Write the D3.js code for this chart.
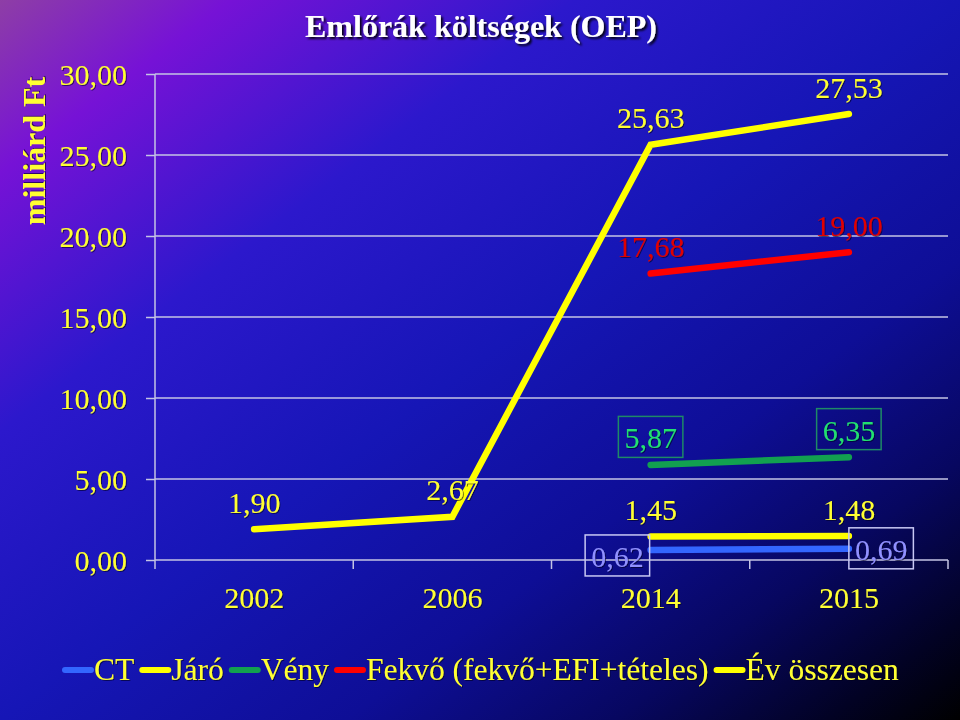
<!DOCTYPE html>
<html>
<head>
<meta charset="utf-8">
<script src="https://cdn.jsdelivr.net/npm/d3@7"></script>
<style>
  html, body { margin: 0; padding: 0; background: #000; }
  svg { display: block; }
  text { font-family: "Liberation Serif", "Times New Roman", serif; }
</style>
</head>
<body>
<svg id="chart" width="960" height="720"></svg>
<script>
// ---------- data ----------
const years = ["2002", "2006", "2014", "2015"];
const yTicks = [0, 5, 10, 15, 20, 25, 30];
const ctValues     = [null, null, 0.62, 0.69];
const jaroValues   = [null, null, 1.45, 1.48];
const venyValues   = [null, null, 5.87, 6.35];
const fekvoValues  = [null, null, 17.68, 19.00];
const totalValues  = [1.90, 2.67, 25.63, 27.53];
const seriesNames  = ["CT", "Járó", "Vény", "Fekvő (fekvő+EFI+tételes)", "Év összesen"];
const titleText = "Emlőrák költségek (OEP)";
const yTitleText = "milliárd Ft";

// ---------- setup ----------
const W = 960, H = 720;
const svg = d3.select("#chart");
const defs = svg.append("defs");

const bg = defs.append("linearGradient").attr("id", "bg")
  .attr("x1", 0).attr("y1", 0).attr("x2", 1).attr("y2", 1);
[[0, "#8e3ea6"], [0.12, "#7612d6"], [0.3, "#2c18cc"], [0.5, "#1616b6"],
 [0.68, "#0e0e96"], [0.82, "#070760"], [0.93, "#020224"], [1, "#000000"]]
  .forEach(([o, c]) => bg.append("stop").attr("offset", o).attr("stop-color", c));

const shadow = defs.append("filter").attr("id", "shadow")
  .attr("x", "-10%").attr("y", "-20%").attr("width", "130%").attr("height", "160%");
shadow.append("feDropShadow").attr("dx", 2).attr("dy", 2).attr("stdDeviation", 0.8)
  .attr("flood-color", "#000000").attr("flood-opacity", 0.9);
const softShadow = defs.append("filter").attr("id", "soft")
  .attr("x", "-10%").attr("y", "-20%").attr("width", "130%").attr("height", "160%");
softShadow.append("feDropShadow").attr("dx", 1).attr("dy", 1).attr("stdDeviation", 0.6)
  .attr("flood-color", "#000020").attr("flood-opacity", 0.6);

svg.append("rect").attr("width", W).attr("height", H).attr("fill", "url(#bg)");

const plot = { left: 155, right: 948, top: 74, bottom: 560 };
const x = d3.scaleBand().domain(years).range([plot.left, plot.right]).padding(0);
const y = d3.scaleLinear().domain([0, 30]).range([plot.bottom, plot.top]);
const cx = yr => x(yr) + x.bandwidth() / 2;

const huFormat = d3.formatLocale({ decimal: ",", thousands: " ", grouping: [3], currency: ["", " Ft"] }).format(".2f");

const gridColor = "#c4c4e4";

// gridlines
svg.append("g").selectAll("line").data(yTicks).join("line")
  .attr("x1", plot.left).attr("x2", plot.right)
  .attr("y1", d => y(d)).attr("y2", d => y(d))
  .attr("stroke", gridColor).attr("stroke-width", 1.5);

// y axis
const yAxis = svg.append("g").attr("transform", `translate(${plot.left},0)`)
  .call(d3.axisLeft(y).tickValues(yTicks).tickFormat(huFormat).tickSize(9).tickPadding(19));
yAxis.select(".domain").remove();
yAxis.selectAll(".tick line").attr("stroke", gridColor).attr("stroke-width", 1.5);
yAxis.selectAll(".tick text").attr("fill", "#ffff33").attr("font-size", 30)
  .attr("font-family", "Liberation Serif").attr("dy", "0.34em").attr("filter", "url(#soft)");
svg.append("line").attr("x1", plot.left).attr("x2", plot.left)
  .attr("y1", plot.top).attr("y2", plot.bottom + 9)
  .attr("stroke", gridColor).attr("stroke-width", 1.5);

// x axis
const xAxis = svg.append("g").attr("transform", `translate(0,${plot.bottom})`)
  .call(d3.axisBottom(x).tickSize(0).tickPadding(27));
xAxis.select(".domain").remove();
xAxis.selectAll(".tick text").attr("fill", "#ffff33").attr("font-size", 30)
  .attr("font-family", "Liberation Serif").attr("filter", "url(#soft)");
// category boundary ticks
const bounds = years.slice(1).map(yr => x(yr)).concat([plot.right]);
svg.append("g").selectAll("line").data(bounds).join("line")
  .attr("x1", d => d).attr("x2", d => d)
  .attr("y1", plot.bottom).attr("y2", plot.bottom + 9)
  .attr("stroke", gridColor).attr("stroke-width", 1.5);

// ---------- series ----------
const series = [
  { name: seriesNames[0], values: ctValues, color: "#3366ff", label: "#9090ff", box: "#c8c8f4", place: ["", "", "left", "right"] },
  { name: seriesNames[1], values: jaroValues, color: "#ffff00", label: "#ffff33", box: null, place: ["", "", "above", "above"] },
  { name: seriesNames[2], values: venyValues, color: "#12a050", label: "#22e070", box: "#1e8a66", place: ["", "", "above", "above"] },
  { name: seriesNames[3], values: fekvoValues, color: "#ff0000", label: "#e00000", box: null, place: ["", "", "above", "above"] },
  { name: seriesNames[4], values: totalValues, color: "#ffff00", label: "#ffff33", box: null, place: ["above", "above", "above", "above"] }
];

const line = d3.line()
  .defined(d => d.v != null)
  .x(d => cx(d.yr)).y(d => y(d.v));

const linesG = svg.append("g");
series.forEach(s => {
  const pts = years.map((yr, i) => ({ yr, v: s.values[i] }));
  linesG.append("path").datum(pts)
    .attr("d", line).attr("fill", "none")
    .attr("stroke", s.color).attr("stroke-width", 6.5)
    .attr("stroke-linecap", "round").attr("stroke-linejoin", "miter");
});

// labels
const labelsG = svg.append("g");
series.forEach(s => {
  years.forEach((yr, i) => {
    const v = s.values[i];
    if (v == null) return;
    const px = cx(yr), py = y(v);
    const g = labelsG.append("g");
    const t = g.append("text").text(huFormat(v))
      .attr("font-size", 30).attr("fill", s.label).attr("font-family", "Liberation Serif")
      .attr("filter", "url(#soft)");
    const w = t.node().getComputedTextLength();
    let tx, ty;
    const place = s.place[i];
    if (place === "above") {
      tx = px; ty = py - 16.5;
      t.attr("text-anchor", "middle").attr("x", tx).attr("y", ty);
    } else if (place === "left") {
      tx = px - 7 - w; ty = py + 17;
      t.attr("text-anchor", "start").attr("x", tx).attr("y", ty);
    } else {
      tx = px + 6; ty = py + 11;
      t.attr("text-anchor", "start").attr("x", tx).attr("y", ty);
    }
    if (s.box) {
      const left = place === "above" ? tx - w / 2 : tx;
      g.insert("rect", "text")
        .attr("x", left - 6).attr("y", ty - 32)
        .attr("width", w + 12).attr("height", 41)
        .attr("fill", "none").attr("stroke", s.box).attr("stroke-width", 1.5);
    }
  });
});

// ---------- title ----------
svg.append("text").text(titleText)
  .attr("x", 481).attr("y", 37).attr("text-anchor", "middle")
  .attr("font-size", 32).attr("font-weight", "bold").attr("fill", "#ffffff")
  .attr("filter", "url(#shadow)");

svg.append("text").text(yTitleText)
  .attr("transform", "translate(45,151) rotate(-90)")
  .attr("text-anchor", "middle")
  .attr("font-size", 32).attr("font-weight", "bold").attr("fill", "#ffff33")
  .attr("filter", "url(#soft)");

// ---------- legend ----------
const legend = svg.append("g");
let lx = 62;
const ly = 670;
series.forEach(s => {
  legend.append("line")
    .attr("x1", lx + 3).attr("x2", lx + 29).attr("y1", ly).attr("y2", ly)
    .attr("stroke", s.color).attr("stroke-width", 6).attr("stroke-linecap", "round");
  lx += 32;
  const t = legend.append("text").text(s.name)
    .attr("x", lx).attr("y", ly + 10)
    .attr("font-size", 31.5).attr("fill", "#ffff33").attr("font-family", "Liberation Serif")
    .attr("filter", "url(#soft)");
  lx += t.node().getComputedTextLength() + 5;
});
</script>
</body>
</html>
